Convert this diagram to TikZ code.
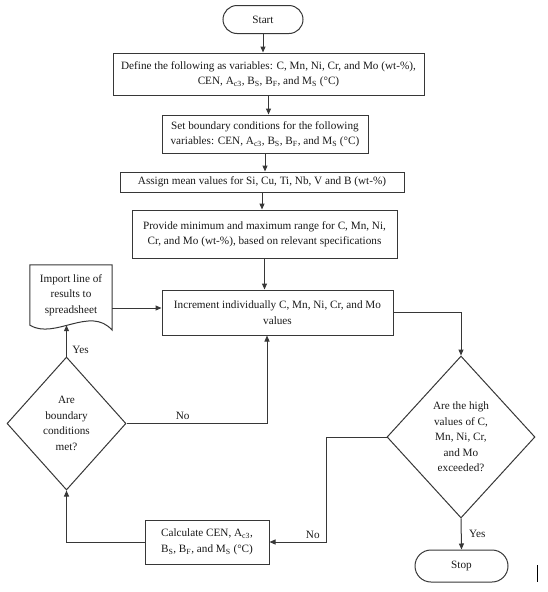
\documentclass[tikz,border=0pt]{standalone}
\usepackage{fontspec}
\setmainfont{Liberation Serif}
\usetikzlibrary{arrows.meta, shapes.geometric, calc}
\definecolor{lineGray}{RGB}{55, 55, 55}

\begin{document}
\begin{tikzpicture}[x=1pt, y=-1pt,
    every node/.style={font=\fontsize{11.2}{15.5}\selectfont, align=center, text=black!90},
    flow/.style={-{Triangle[length=6pt, width=5pt]}, lineGray, line width=1pt},
    procbox/.style={draw=lineGray, line width=1pt, rectangle, inner sep=2pt},
    termbox/.style={draw=lineGray, line width=1pt, rectangle, rounded corners=14pt, inner sep=2pt},
    decbox/.style={draw=lineGray, line width=1pt, diamond, inner sep=0pt}]
        \useasboundingbox (0,0) rectangle (548,592);

        % MAIN COLUMN
        \node[termbox, minimum width=80, minimum height=28] (start) at (263,19.5) {Start};
        \node[procbox, minimum width=311, minimum height=42] (define) at (268.5,74)
            {Define the following as variables: C, Mn, Ni, Cr, and Mo (wt-\%),\\
             CEN, A\textsubscript{c3}, B\textsubscript{S}, B\textsubscript{F}, and M\textsubscript{S} (°C)};
        \node[procbox, minimum width=206, minimum height=38] (bound) at (265,134)
            {Set boundary conditions for the following\\
             variables: CEN, A\textsubscript{c3}, B\textsubscript{S}, B\textsubscript{F}, and M\textsubscript{S} (°C)};
        \node[procbox, minimum width=284, minimum height=20] (assign) at (262,182)
            {Assign mean values for Si, Cu, Ti, Nb, V and B (wt-\%)};
        \node[procbox, minimum width=265, minimum height=48] (range) at (264.5,234)
            {Provide minimum and maximum range for C, Mn, Ni,\\
             Cr, and Mo (wt-\%), based on relevant specifications};
        \node[procbox, minimum width=231, minimum height=45] (incr) at (277.5,312.5)
            {Increment individually C, Mn, Ni, Cr, and Mo\\values};

        \draw[flow] (start) -- (start |- define.north);
        \draw[flow] (define) -- (define |- bound.north);
        \draw[flow] (bound) -- (bound |- assign.north);
        \draw[flow] (assign) -- (assign |- range.north);
        \draw[flow] (range) -- (range |- incr.north);

        % IMPORT (document shape)
        \node[minimum width=82, minimum height=60, inner sep=0pt] (import) at (71,295)
            {Import line of\\results to\\spreadsheet};
        \draw[lineGray, line width=1pt] (import.north west) -- (import.north east)
            -- ([yshift=-5pt]import.south east)
            .. controls ($(import.south east)+(-22,-20)$) and ($(import.south west)+(25,15)$) .. (import.south west)
            -- cycle;
        \draw[flow] ([yshift=-13pt]import.east) -- ([yshift=-13pt]import.east -| incr.west);

        % BOUNDARY CHECK
        \node[decbox, minimum width=119, minimum height=133] (check) at (66.5,423.5)
            {Are\\boundary\\conditions\\met?};
        \draw[flow] (check.north) -- (check.north |- import.south)
            node[pos=0.2, right=2pt] {Yes};
        \draw[flow] (check.east) -| ([xshift=-10.5pt]incr.south)
            node[pos=0.2, above] {No};

        % HIGH VALUES CHECK
        \node[decbox, minimum width=148, minimum height=162] (high) at (461,437)
            {Are the high\\values of C,\\Mn, Ni, Cr,\\and Mo\\exceeded?};
        \draw[flow] (incr.east) -| (high.north);
        \node[termbox, minimum width=93, minimum height=32, rounded corners=16pt] (stop) at (461.5,566) {Stop};
        \draw[flow] (high.south) -- (stop.north) node[midway, right=4pt] {Yes};

        % CALCULATE
        \node[procbox, minimum width=124, minimum height=44] (calc) at (207,542)
            {Calculate CEN, A\textsubscript{c3},\\
             B\textsubscript{S}, B\textsubscript{F}, and M\textsubscript{S} (°C)};
        \draw[flow] (high.west) -- ++(-60,0) coordinate (turn) |- (calc.east)
            node[pos=0.62, above] {No};
        \draw[flow] (calc.west) -| (check.south);

        \draw[black, line width=1pt] (537,565) -- (537,582);
      \end{tikzpicture}
\end{document}
